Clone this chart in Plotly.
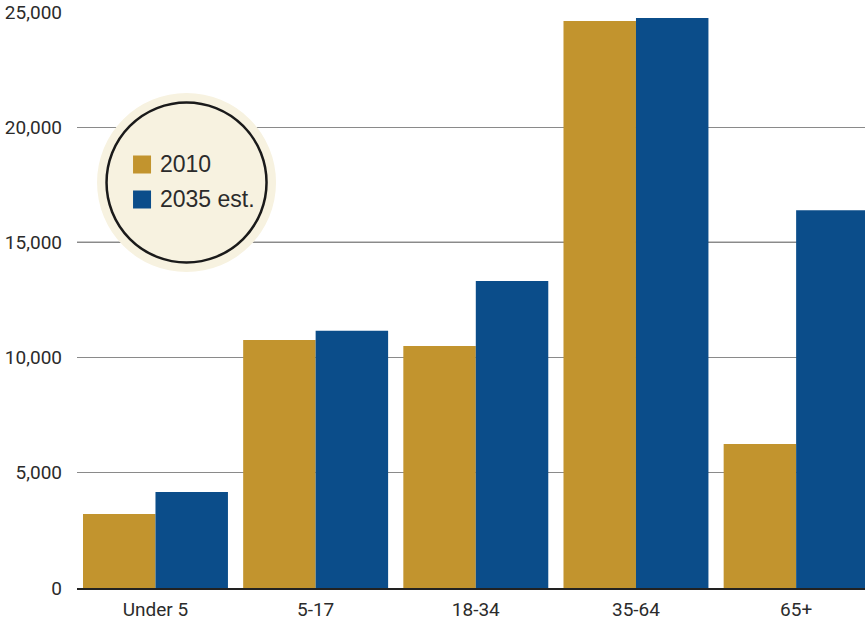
import plotly.graph_objects as go

categories = ["Under 5", "5-17", "18-34", "35-64", "65+"]
values_2010 = [3210, 10760, 10500, 24610, 6250]
values_2035 = [4170, 11160, 13320, 24740, 16400]
series_names = ["2010", "2035 est."]
y_ticks = [0, 5000, 10000, 15000, 20000, 25000]
y_tick_labels = ["0", "5,000", "10,000", "15,000", "20,000", "25,000"]

GOLD = "#C2942E"
BLUE = "#0B4D8A"
BEIGE = "#F7F2E0"
TXT = "#2b2b2b"
TICKFONT = "Roboto, Liberation Sans, Arial, sans-serif"
LEGFONT = "Liberation Sans, Arial, sans-serif"

fig = go.Figure()
fig.add_trace(go.Bar(x=categories, y=values_2010, name=series_names[0],
                     marker=dict(color=GOLD, line=dict(width=0))))
fig.add_trace(go.Bar(x=categories, y=values_2035, name=series_names[1],
                     marker=dict(color=BLUE, line=dict(width=0))))

# legend circle (drawn manually)
cx, cy = 0.139, 0.704
shapes = [
    dict(type="circle", xref="paper", yref="paper", xsizemode="pixel", ysizemode="pixel",
         xanchor=cx, yanchor=cy, x0=-89.5, x1=89.5, y0=-89.5, y1=89.5,
         fillcolor=BEIGE, line=dict(width=0), layer="above"),
    dict(type="circle", xref="paper", yref="paper", xsizemode="pixel", ysizemode="pixel",
         xanchor=cx, yanchor=cy, x0=-80, x1=80, y0=-80, y1=80,
         fillcolor=BEIGE, line=dict(color="#1a1a1a", width=2.5), layer="above"),
    dict(type="line", xref="paper", yref="y", x0=0, x1=1, y0=y_ticks[3], y1=y_ticks[3],
         line=dict(color="#222222", width=1.3), layer="below"),
]
annotations = []
for i, (name, col) in enumerate(zip(series_names, [GOLD, BLUE])):
    dy = 18 - i * 35  # pixel offsets from circle centre
    shapes.append(dict(type="rect", xref="paper", yref="paper", xsizemode="pixel",
                       ysizemode="pixel", xanchor=cx, yanchor=cy,
                       x0=-53.5, x1=-35.5, y0=dy - 9, y1=dy + 9,
                       fillcolor=col, line=dict(width=0), layer="above"))
    annotations.append(dict(xref="paper", yref="paper", x=cx, y=cy, xshift=-28.5, yshift=dy,
                            text=name, showarrow=False, xanchor="left", yanchor="middle",
                            font=dict(family=LEGFONT, size=23, color=TXT)))

fig.update_layout(
    width=865, height=621,
    margin=dict(l=77, r=0, t=12, b=33, autoexpand=False),
    paper_bgcolor="white", plot_bgcolor="white",
    barmode="group", bargap=0.095, bargroupgap=0,
    showlegend=False,
    shapes=shapes, annotations=annotations,
    xaxis=dict(range=[-0.49, 4.43], showgrid=False, showline=True, linecolor="#222222",
               linewidth=1.5, ticks="", tickfont=dict(family=TICKFONT, size=19, color=TXT),
               ticklabelstandoff=3, automargin=False, fixedrange=True),
    yaxis=dict(range=[0, 25000], tickvals=y_ticks, ticktext=y_tick_labels,
               showgrid=True, gridcolor="#8a8a8a", gridwidth=1.3, zeroline=False,
               showline=False, ticks="", ticklabelstandoff=14, automargin=False,
               tickfont=dict(family=TICKFONT, size=19, color=TXT), fixedrange=True),
)

fig.write_html(
    "out.html",
    config={"displayModeBar": False},
    post_script="document.body.style.margin='0';document.body.style.overflow='hidden';",
)
